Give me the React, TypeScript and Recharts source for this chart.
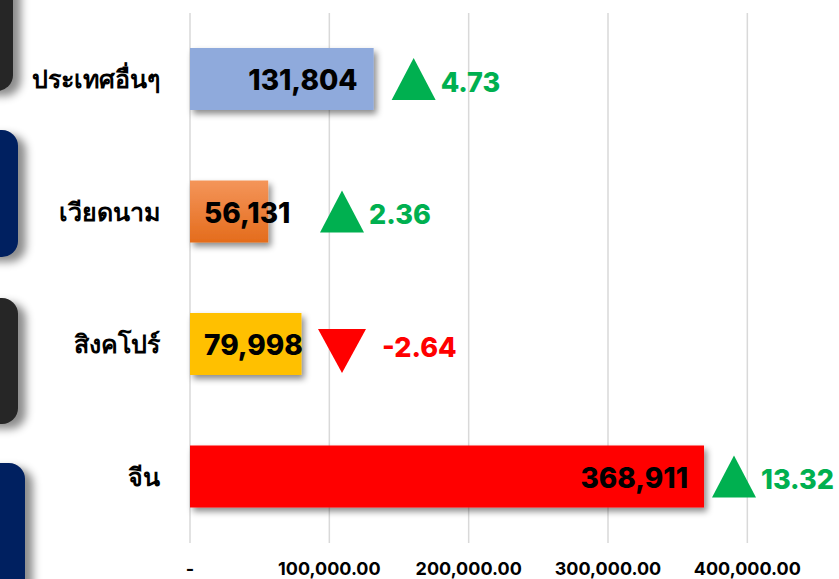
import { BarChart, Bar, XAxis, YAxis, CartesianGrid, Cell, LabelList } from 'recharts';

const categories = ['ประเทศอื่นๆ', 'เวียดนาม', 'สิงคโปร์', 'จีน'];
const values = [131804, 56131, 79998, 368911];
const changes = [4.73, 2.36, -2.64, 13.32];
const barColors = ['#8FAADC', 'url(#orangeFill)', '#FFC000', '#FF0000'];
const xTicks = [0, 100000, 200000, 300000, 400000];
const xMax = 450000;

const data = categories.map((name, i) => ({ name, value: values[i], change: changes[i] }));

const W = 839;
const H = 579;
const FONT = 'Inter, "Noto Sans", sans-serif';
const UP = '#00B050';
const DOWN = '#FF0000';

// left side decoration tabs (not data)
const tabs = [
  { top: -30, bottom: 91, right: 13, color: '#262626' },
  { top: 130, bottom: 257, right: 18, color: '#002060' },
  { top: 298, bottom: 424, right: 18, color: '#262626' },
  { top: 463, bottom: 620, right: 25, color: '#002060' },
];

const fmtTick = (v: number) =>
  v === 0 ? '-' : v.toLocaleString('en-US', { minimumFractionDigits: 2, maximumFractionDigits: 2 });

function BarLabels(props: any) {
  const { x, y, width, height, index } = props;
  const v = values[index];
  const ch = changes[index];
  const text = v.toLocaleString('en-US');
  const chText = ch.toFixed(2);
  const cy = y + height / 2;
  const textW = text.replace(',', '').length * 17 + 7;
  let endX = x + width - 16;
  let anchor: 'end' | 'start' = 'end';
  let tx = endX;
  if (endX - textW < x + 14) {
    anchor = 'start';
    tx = x + 14;
    endX = tx + textW;
  }
  const up = ch >= 0;
  const gap = up ? 27 : 40;
  const chW = chText.replace(/[.-]/g, '').length * 16 + 8;
  // marker goes past whichever ends later, the bar or its label, but stays on the page
  const cx = Math.min(Math.max(x + width + 40, endX + 46), W - 6 - gap - chW);
  const ty = up ? cy : cy + 7;
  const tri = up
    ? `${cx},${ty - 21} ${cx - 22},${ty + 21} ${cx + 22},${ty + 21}`
    : `${cx - 24},${ty - 22} ${cx + 24},${ty - 22} ${cx},${ty + 22}`;
  return (
    <g>
      <text x={tx} y={cy + 1} textAnchor={anchor} dominantBaseline="central"
        fontFamily={FONT} fontWeight={800} fontSize={28} fill="#000">
        {text}
      </text>
      <polygon points={tri} fill={up ? UP : DOWN} />
      <text x={cx + gap} y={cy + 3} textAnchor="start" dominantBaseline="central"
        fontFamily={FONT} fontWeight={800} fontSize={27} fill={up ? UP : DOWN}>
        {chText}
      </text>
    </g>
  );
}

const gridX = ({ xAxis, offset }: any) => {
  const s = xAxis && xAxis.scale;
  return xTicks.map((t) =>
    typeof s === 'function' ? s(t) : offset.left + (t / xMax) * offset.width
  );
};

export default function App() {
  return (
    <div style={{ position: 'absolute', left: 0, top: 0, width: W, height: H, overflow: 'hidden', background: '#fff' }}>
      {tabs.map((t, i) => (
        <div key={i} style={{
          position: 'absolute', left: -40, top: t.top, width: 40 + t.right, height: t.bottom - t.top,
          background: t.color, borderRadius: 16, boxShadow: '8px 5px 9px rgba(0,0,0,0.45)',
        }} />
      ))}
      <div style={{ position: 'absolute', left: 0, top: 0 }}>
        <BarChart width={W} height={H} data={data} layout="vertical"
          margin={{ top: 13, right: 22, bottom: 0, left: 0 }}>
          <defs>
            <linearGradient id="orangeFill" x1="0" y1="0" x2="0" y2="1">
              <stop offset="0%" stopColor="#F4955A" />
              <stop offset="100%" stopColor="#E46C1C" />
            </linearGradient>
            <filter id="barShadow" x="-10%" y="-10%" width="130%" height="140%">
              <feDropShadow dx="3" dy="4" stdDeviation="3" floodColor="#000" floodOpacity="0.45" />
            </filter>
          </defs>
          <CartesianGrid horizontal={false} stroke="#D9D9D9" strokeWidth={1.5}
            verticalCoordinatesGenerator={gridX} />
          <XAxis type="number" domain={[0, xMax]} ticks={xTicks} tickFormatter={fmtTick}
            axisLine={false} tickLine={false} height={36} tickMargin={13} interval={0}
            tick={{ fill: '#000', fontSize: 18, fontWeight: 700, fontFamily: FONT }} />
          <YAxis type="category" dataKey="name" width={190} axisLine={false} tickLine={false}
            tickSize={0} tickMargin={30}
            tick={{ fill: '#000', fontSize: 25, fontWeight: 700, fontFamily: FONT }} />
          <Bar dataKey="value" barSize={62} isAnimationActive={false}>
            {data.map((d, i) => (
              <Cell key={d.name} fill={barColors[i]} filter="url(#barShadow)" />
            ))}
            <LabelList dataKey="value" content={<BarLabels />} />
          </Bar>
        </BarChart>
      </div>
    </div>
  );
}
